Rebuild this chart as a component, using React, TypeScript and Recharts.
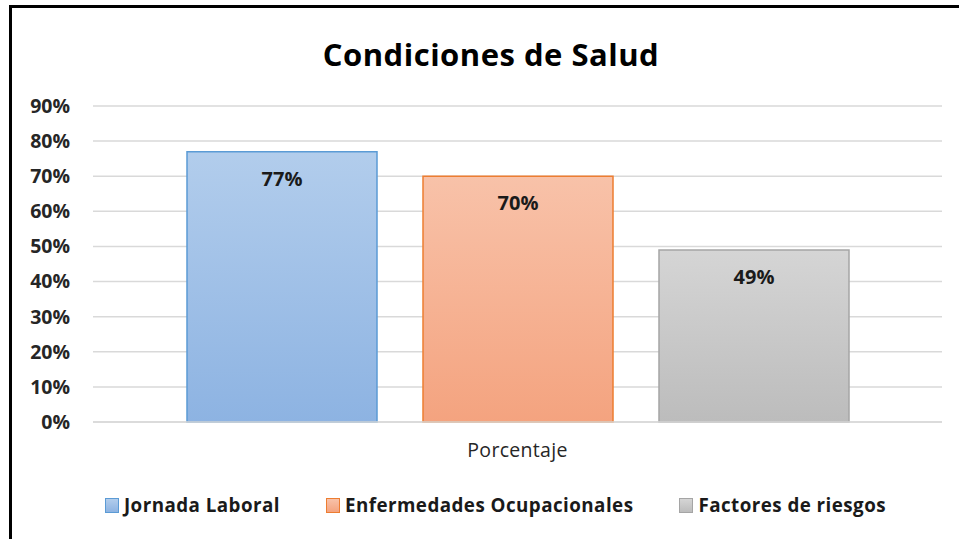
import React from 'react';
import { BarChart, Bar, XAxis, YAxis, CartesianGrid, LabelList, Legend } from 'recharts';

const categories = ['Porcentaje'];
const seriesNames = ['Jornada Laboral', 'Enfermedades Ocupacionales', 'Factores de riesgos'];
const seriesKeys = ['jornada', 'enfermedades', 'factores'];
const seriesValues = [0.77, 0.70, 0.49];
const yTicks = [0, 0.1, 0.2, 0.3, 0.4, 0.5, 0.6, 0.7, 0.8, 0.9];
const title = 'Condiciones de Salud';

const fills = [
  { top: '#b2cdec', bottom: '#8db3e2', stroke: '#5b9bd5' },
  { top: '#f8c2a9', bottom: '#f4a37f', stroke: '#ed7d31' },
  { top: '#d5d5d5', bottom: '#bcbcbc', stroke: '#a5a5a5' },
];

const data = categories.map((c) => {
  const row: Record<string, any> = { name: c };
  seriesKeys.forEach((k, i) => (row[k] = seriesValues[i]));
  return row;
});

const FONT = '"Open Sans", Lato, sans-serif';

const pct = (v: number) => `${Math.round(v * 100)}%`;

const LegendContent = () => (
  <div style={{ display: 'flex', justifyContent: 'center', alignItems: 'center', gap: 46, fontFamily: FONT, fontWeight: 700, fontSize: 18.8, letterSpacing: 0.45, color: '#1a1a1a' }}>
    {seriesNames.map((n, i) => (
      <div key={n} style={{ display: 'flex', alignItems: 'center' }}>
        <div style={{ width: 12, height: 13, background: `linear-gradient(${fills[i].top}, ${fills[i].bottom})`, border: `1px solid ${fills[i].stroke}`, marginRight: 5 }} />
        <span>{n}</span>
      </div>
    ))}
  </div>
);

export default function App() {
  return (
    <div style={{ position: 'absolute', left: 0, top: 0, width: 959, height: 539, overflow: 'hidden', background: '#fff' }}>
      <div style={{ position: 'absolute', left: 9, top: 5, width: 1200, height: 1200, borderLeft: '3px solid #000', borderTop: '3px solid #000' }} />
      <div style={{ position: 'absolute', left: 0, top: 34, width: 982, textAlign: 'center', fontFamily: FONT, fontWeight: 700, fontSize: 31, letterSpacing: 0.5, color: '#000', lineHeight: '40px' }}>
        {title}
      </div>
      <div style={{ position: 'absolute', left: 0, top: 0 }}>
        <BarChart
          width={959}
          height={539}
          data={data}
          margin={{ top: 106, right: 17, bottom: 77, left: 13 }}
          barCategoryGap={94}
          barGap={46}
        >
          <defs>
            {fills.map((f, i) => (
              <linearGradient key={i} id={`grad${i}`} x1="0" y1="0" x2="0" y2="1">
                <stop offset="0%" stopColor={f.top} />
                <stop offset="100%" stopColor={f.bottom} />
              </linearGradient>
            ))}
          </defs>
          <CartesianGrid horizontal vertical={false} stroke="#d9d9d9" strokeWidth={1.5} />
          <XAxis
            dataKey="name"
            height={40}
            axisLine={{ stroke: '#d9d9d9', strokeWidth: 1.5 }}
            tickLine={false}
            tickSize={0}
            tickMargin={21}
            tick={{ fontFamily: FONT, fontSize: 19.5, letterSpacing: 0.3, fill: '#262626' }}
          />
          <YAxis
            width={80}
            domain={[0, 0.9]}
            ticks={yTicks}
            tickFormatter={pct}
            axisLine={false}
            tickLine={false}
            tickSize={0}
            tickMargin={23}
            tick={{ fontFamily: FONT, fontSize: 19.5, fontWeight: 700, fill: '#262626' }}
          />
          <Legend verticalAlign="middle" align="center" layout="horizontal" wrapperStyle={{ top: 492, left: 0, width: 991 }} content={LegendContent} />
          {seriesKeys.map((k, i) => (
            <Bar key={k} dataKey={k} name={seriesNames[i]} fill={`url(#grad${i})`} stroke={fills[i].stroke} strokeWidth={1.5} isAnimationActive={false}>
              <LabelList dataKey={k} position="insideTop" offset={20} formatter={(v: any) => pct(Number(v))} style={{ fontFamily: FONT, fontSize: 20, fontWeight: 700, fill: '#1a1a1a' }} />
            </Bar>
          ))}
        </BarChart>
      </div>
    </div>
  );
}
